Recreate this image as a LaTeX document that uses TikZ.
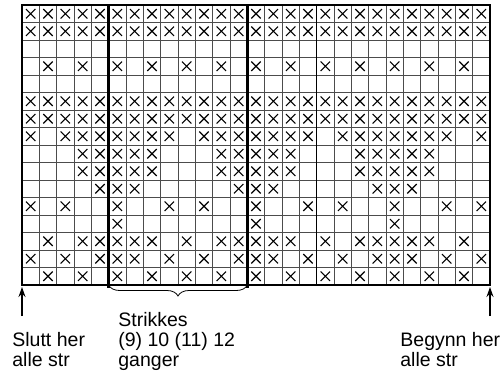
\documentclass[tikz,border=0pt]{standalone}
\usepackage{fontspec}
\setmainfont{Liberation Sans}
\usetikzlibrary{arrows.meta,decorations.pathreplacing}

\begin{document}
\begin{tikzpicture}[x=1pt,y=1pt,line width=0.8pt,>=Stealth,
  gline/.style={line width=0.7pt,black!70},
  kmark/.style={line width=1.1pt},
  frame/.style={line width=2.8pt,line cap=rect},
  lbl/.style={anchor=base west,inner sep=0pt,align=left,font=\fontsize{19.5}{20}\selectfont},
  parr/.style={->,line width=1.2pt,>={Stealth[length=10pt,width=7pt]}}]
\useasboundingbox (0,0) rectangle (504,-373);
\def\cw{17.333}
\def\ch{17.5}
% chart corners
\coordinate (gridNW) at (22,-5);
\coordinate (gridNE) at (490,-5);
\coordinate (gridSW) at (22,-285);
\coordinate (gridSE) at (490,-285);
% thin grid
\foreach \i in {1,...,26}
  \draw[gline] (22+\i*\cw,-5) -- (22+\i*\cw,-285);
\foreach \j in {1,...,15}
  \draw[gline] (22,-5-\j*\ch) -- (490,-5-\j*\ch);
\draw[line width=1.3pt] (22+17*\cw,-5) -- (22+17*\cw,-285);
% stitch marks, row by row from the top
\foreach \r/\cols in {1/{1,...,27},2/{1,...,27},4/{2,4,...,26},
    6/{1,...,27},7/{1,...,27},
    8/{1,3,4,5,6,7,8,9,11,12,13,14,15,16,17,19,20,21,22,23,24,25,27},
    9/{4,5,6,7,8,12,13,14,15,16,20,21,22,23,24},
    10/{4,5,6,7,8,12,13,14,15,16,20,21,22,23,24},
    11/{5,6,7,13,14,15,21,22,23},
    12/{1,3,6,9,11,14,17,19,22,25,27},
    13/{6,14,22},
    14/{2,4,5,6,7,8,10,12,13,14,15,16,18,20,21,22,23,24,26},
    15/{1,3,5,6,7,9,11,13,14,15,17,19,21,22,23,25,27},
    16/{2,4,...,26}} {
  \foreach \c in \cols {
    \pgfmathsetmacro{\xx}{22+(\c-0.5)*\cw}
    \pgfmathsetmacro{\yy}{-5-(\r-0.5)*\ch}
    \draw[kmark] (\xx-4.7,\yy-4.7) -- (\xx+4.7,\yy+4.7)
                 (\xx-4.7,\yy+4.7) -- (\xx+4.7,\yy-4.7);
  }
}
% frame and repeat lines
\draw[line width=1.4pt] (gridNW) -- (gridNE);
\draw[frame] (gridNW) -- (gridSW) -- (gridSE) -- (gridNE);
\coordinate (repL) at (22+5*\cw,-285);
\coordinate (repR) at (22+13*\cw,-285);
\draw[frame] (22+5*\cw,-5) -- (22+5*\cw,-287);
\draw[frame] (22+13*\cw,-5) -- (22+13*\cw,-287);
% brace under the repeat
\draw[decorate,decoration={brace,mirror,amplitude=11pt},line width=0.8pt] (repL) -- (repR);
% start and end arrows
\coordinate (endL) at (22,-316);
\coordinate (tipL) at (22,-287);
\coordinate (startR) at (490,-316);
\coordinate (tipR) at (490,-287);
\draw[parr] (endL) -- (tipL);
\draw[parr] (startR) -- (tipR);
% labels (base anchor sits on the last line)
\node[lbl] (slutt) at (12,-366) {Slutt her\\alle str};
\node[lbl] (gang) at (118,-366) {Strikkes\\(9) 10 (11) 12\\ganger};
\node[lbl] (begynn) at (400,-366) {Begynn her\\alle str};
\end{tikzpicture}
\end{document}
